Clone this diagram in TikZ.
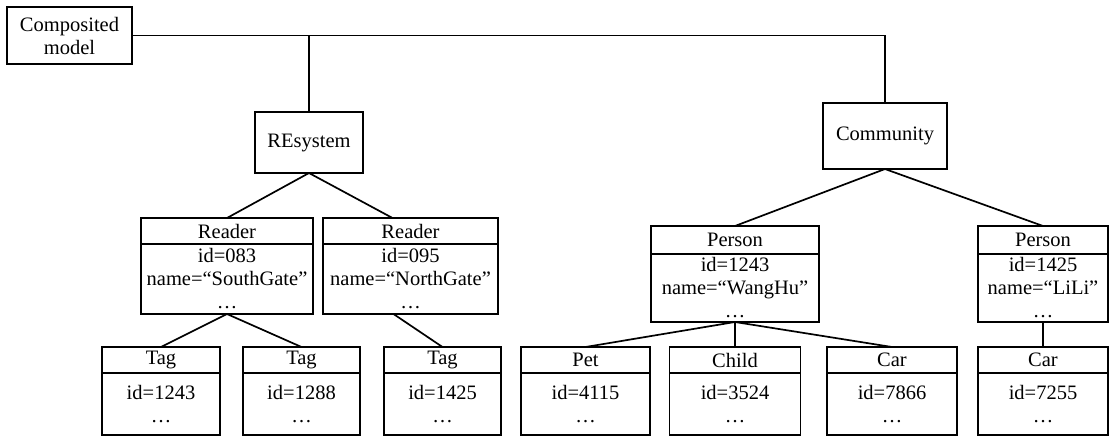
\documentclass[tikz,border=0pt]{standalone}
\usepackage{fontspec}
\setmainfont{Liberation Serif}
\usetikzlibrary{positioning}

\begin{document}
\begin{tikzpicture}[x=1pt,y=-1pt,line width=1.7pt,
    box/.style={draw,rectangle,align=center,inner sep=0pt,outer sep=0pt,font=\fontsize{20.5}{23}\selectfont},
    head/.style={box,minimum height=26pt},
    tall head/.style={box,minimum height=28pt}]
  \useasboundingbox (0,0) rectangle (1109,437);
  % top level
  \node[box,minimum width=125pt,minimum height=57pt] (comp) at (69.5,35.5) {Composited\\model};
  \node[box,minimum width=108pt,minimum height=61pt] (res) at (309,142.5) {REsystem};
  \node[box,minimum width=124pt,minimum height=66pt] (com) at (885,136) {Community};
  % readers
  \node[head,minimum width=172pt] (r1) at (227,231) {Reader};
  \node[box,minimum width=172pt,minimum height=70pt,below=0pt of r1] (r1b) {id=083\\name=“SouthGate”\\…};
  \node[head,minimum width=175pt] (r2) at (410.5,231) {Reader};
  \node[box,minimum width=175pt,minimum height=70pt,below=0pt of r2] (r2b) {id=095\\name=“NorthGate”\\…};
  % persons
  \node[tall head,minimum width=168pt] (p1) at (735,240) {Person};
  \node[box,minimum width=168pt,minimum height=68pt,below=0pt of p1] (p1b) {id=1243\\name=“WangHu”\\…};
  \node[tall head,minimum width=130pt] (p2) at (1043,240) {Person};
  \node[box,minimum width=130pt,minimum height=68pt,below=0pt of p2] (p2b) {id=1425\\name=“LiLi”\\…};
  % tags
  \node[head,minimum width=118pt] (t1) at (161,360) {Tag};
  \node[box,minimum width=118pt,minimum height=62pt,below=0pt of t1] (t1b) {id=1243\\…};
  \node[head,minimum width=117pt] (t2) at (301.5,360) {Tag};
  \node[box,minimum width=117pt,minimum height=62pt,below=0pt of t2] (t2b) {id=1288\\…};
  \node[head,minimum width=117pt] (t3) at (442.5,360) {Tag};
  \node[box,minimum width=117pt,minimum height=62pt,below=0pt of t3] (t3b) {id=1425\\…};
  % pet, child, cars
  \node[head,minimum width=129pt] (pet) at (585.5,360) {Pet};
  \node[box,minimum width=129pt,minimum height=62pt,below=0pt of pet] (petb) {id=4115\\…};
  \node[head,minimum width=131pt] (child) at (735,360) {Child};
  \node[box,minimum width=131pt,minimum height=62pt,below=0pt of child] (childb) {id=3524\\…};
  \node[head,minimum width=130pt] (car1) at (892,360) {Car};
  \node[box,minimum width=130pt,minimum height=62pt,below=0pt of car1] (car1b) {id=7866\\…};
  \node[head,minimum width=130pt] (car2) at (1043,360) {Car};
  \node[box,minimum width=130pt,minimum height=62pt,below=0pt of car2] (car2b) {id=7255\\…};
  % connectors
  \draw (comp.east) -| (com.north);
  \draw (res.north) -- (res.north |- comp.east);
  \path (res.south) edge (r1.north)
        (res.south) edge ([xshift=-18pt]r2.north);
  \path (r1b.south) edge (t1.north)
        (r1b.south) edge (t2.north)
        ([xshift=-17pt]r2b.south) edge (t3.north);
  \path (com.south) edge (p1.north)
        (com.south) edge (p2.north);
  \path (p1b.south) edge (pet.north)
        (p1b.south) edge (child.north)
        (p1b.south) edge (car1.north);
  \path (p2b.south) edge (car2.north);
\end{tikzpicture}
\end{document}
